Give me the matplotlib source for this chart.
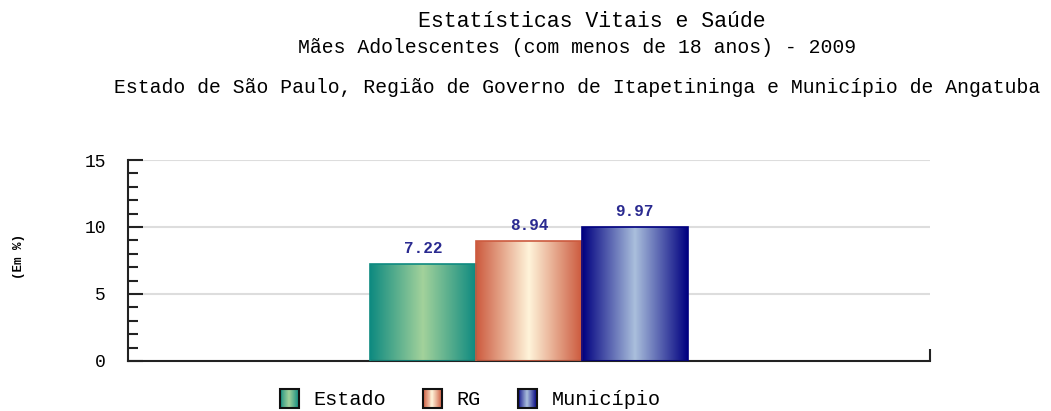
import numpy as np
import matplotlib.pyplot as plt
from matplotlib.colors import LinearSegmentedColormap
from matplotlib.legend_handler import HandlerBase
from matplotlib.patches import Rectangle

# data
categories = ["Estado", "RG", "Município"]
values = [7.22, 8.94, 9.97]
edge_colors = ["#0e8a80", "#cc5a3e", "#000080"]
center_colors = ["#a3d29b", "#fff4da", "#aabfdc"]

title1 = "Estatísticas Vitais e Saúde"
title2 = "Mães Adolescentes (com menos de 18 anos) - 2009"
title3 = "Estado de São Paulo, Região de Governo de Itapetininga e Município de Angatuba"

mono = ["Liberation Mono", "DejaVu Sans Mono"]
plt.rcParams["font.family"] = mono

fig = plt.figure(figsize=(10.51, 4.11), dpi=100)
ax = fig.add_axes([0.1218, 0.1217, 0.763, 0.489])

width = 0.132
offsets = (np.arange(len(values)) - 1) * width

cmaps = [LinearSegmentedColormap.from_list("g%d" % i, [e, c, e])
         for i, (e, c) in enumerate(zip(edge_colors, center_colors))]
grad = np.linspace(0, 1, 256).reshape(1, -1)

bars = ax.bar(offsets, values, width=width, facecolor="none",
              edgecolor=edge_colors, linewidth=1.2, zorder=3)
for bar, cmap in zip(bars, cmaps):
    x0, y0 = bar.get_x(), bar.get_y()
    im = ax.imshow(grad, cmap=cmap, aspect="auto", zorder=2,
                   extent=(x0, x0 + bar.get_width(), y0, y0 + bar.get_height()))
    im.set_clip_path(bar)

for bar, v in zip(bars, values):
    ax.annotate("%.2f" % v, (bar.get_x() + bar.get_width() / 2, bar.get_height()),
                xytext=(0, 6), textcoords="offset points", ha="center",
                va="bottom", fontsize=11.5, color="#2a2a90", fontweight="bold")

ax.set_xlim(-0.5, 0.5)
ax.set_ylim(0, 15)
ax.set_yticks([0, 5, 10, 15])
ax.set_yticks(np.arange(0, 15.1, 1), minor=True)
ax.tick_params(axis="y", which="major", direction="in", length=11, width=1.5,
               labelsize=13, pad=16, color="#222222")
ax.tick_params(axis="y", which="minor", direction="in", length=7, width=1.5,
               color="#222222")
ax.set_xticks([0.5])
ax.set_xticklabels([])
ax.tick_params(axis="x", direction="in", length=9, width=1.5, color="#222222")
ax.yaxis.grid(True, color="#dddddd", linewidth=1.5, zorder=0)
ax.set_axisbelow(True)
for s in ["top", "right"]:
    ax.spines[s].set_visible(False)
for s in ["left", "bottom"]:
    ax.spines[s].set_linewidth(1.5)
    ax.spines[s].set_color("#222222")

fig.text(0.018, 0.376, "(Em %)", rotation=90, fontsize=9, ha="center",
         va="center", fontweight="bold")

fig.text(0.563, 0.948, title1, ha="center", va="center", fontsize=15.5)
fig.text(0.549, 0.885, title2, ha="center", va="center", fontsize=14.2)
fig.text(0.549, 0.788, title3, ha="center", va="center", fontsize=14.2)


class HandlerGradient(HandlerBase):
    def create_artists(self, legend, orig_handle, xdescent, ydescent,
                       width, height, fontsize, trans):
        cmap = orig_handle.cmap
        n = 20
        side = height * 1.35
        x0 = -xdescent + (width - side) / 2
        y0 = -ydescent + (height - side) / 2
        arts = []
        for k in range(n):
            r = Rectangle((x0 + k * side / n, y0), side / n, side,
                          facecolor=cmap((k + 0.5) / n), edgecolor="none",
                          transform=trans)
            arts.append(r)
        arts.append(Rectangle((x0, y0), side, side, facecolor="none",
                              edgecolor="#111111", linewidth=1.5, transform=trans))
        return arts


handles = []
for cmap in cmaps:
    h = Rectangle((0, 0), 1, 1)
    h.cmap = cmap
    handles.append(h)

fig.legend(handles, categories, handler_map={Rectangle: HandlerGradient()},
           loc="center", bbox_to_anchor=(0.446, 0.027), ncol=3, frameon=False,
           fontsize=14.5, handlelength=1.2, handletextpad=0.6, columnspacing=1.7)

fig.savefig("out.png", dpi=100)
